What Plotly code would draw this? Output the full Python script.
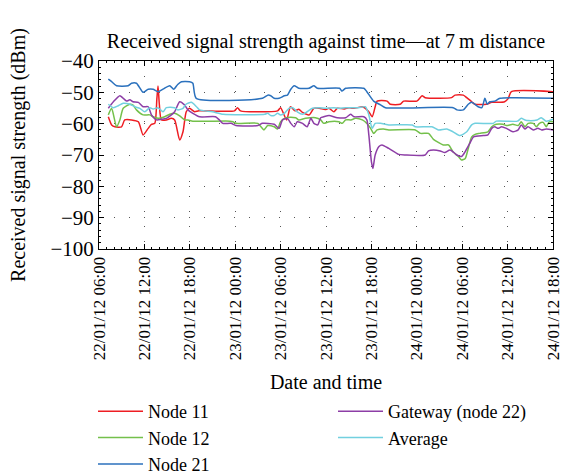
import datetime as dt
import plotly.graph_objects as go

START = dt.datetime(2012, 1, 22, 6, 0)

# Time offsets (hours after 22/01/12 06:00) and RSSI values (dBm) per series
node11_h = [1.23, 1.67, 2.1, 2.98, 3.4, 4.3, 5.2, 5.83, 6.5, 6.93, 7.37, 7.65, 7.8, 7.98, 8.24, 8.9, 9.56, 10.0,
            10.66, 11.1, 11.53, 11.97, 12.63, 13.2, 17.9, 18.3, 18.7, 23.6, 24.0, 24.8, 25.3, 25.9, 26.4,
            26.9, 27.8, 28.4, 29.1, 29.9, 30.4, 31.05, 31.5, 32.4, 33.03, 33.5, 34.1, 34.8, 35.2, 35.66,
            36.1, 36.5, 36.75, 38.07, 38.5, 39.8, 40.26, 42.0, 42.7, 43.1, 46.6, 47.05, 48.15, 48.6, 49.25,
            49.7, 51.2, 51.9, 52.75, 53.6, 54.07, 54.5, 60.0]
node11_v = [-57.8, -60.4, -61, -61, -58.8, -58.8, -59.4, -63.6, -61.5, -60.2, -59.9, -52, -48, -54, -58.8, -58.8,
            -58.3, -58.8, -65.2, -62.6, -56.2, -55.1, -56.2, -55.9, -55.9, -54.9, -55.9, -55.9, -54.9, -58.8,
            -54.6, -55.9, -55.4, -56.4, -57.2, -55.1, -55.1, -55.5, -55.1, -56.2, -55.1, -55.3, -54.9, -55.1,
            -54.9, -54.6, -55.1, -56.2, -57.8, -54.6, -52.8, -52.8, -53.8, -53.8, -52.8, -52.8, -51.1, -51.7,
            -51.7, -50.9, -50.9, -51.7, -53.0, -53.8, -53.8, -53.2, -53.2, -53.0, -52.0, -49.8, -49.8]

node12_h = [1.23, 1.67, 2.32, 2.76, 3.2, 4.08, 4.5, 4.95, 5.83, 6.7, 7.15, 7.8, 8.68, 9.34, 10.0, 10.66, 11.3,
            11.75, 12.4, 17.3, 17.7, 18.1, 21.0, 21.4, 21.8, 22.3, 23.15, 23.6, 24.0, 24.7, 26.0, 26.4, 27.3,
            28.6, 29.3, 29.7, 30.4, 31.7, 32.15, 32.6, 33.3, 33.9, 34.8, 35.4, 35.9, 36.3, 36.75, 37.6, 38.3,
            41.8, 42.5, 43.55, 44.2, 45.5, 46.2, 46.8, 47.5, 47.9, 48.4, 48.8, 49.25, 49.7, 50.3, 51.4, 51.9,
            52.5, 53.4, 53.85, 54.7, 55.4, 55.8, 56.3, 56.7, 57.4, 57.8, 58.2, 58.7, 59.1, 59.5, 60.0]
node12_v = [-57.2, -55.1, -61, -58.8, -55.1, -53.8, -54.1, -55.6, -57.2, -57.2, -57.8, -58.3, -57.8, -57.0,
            -56.7, -57.5, -58.8, -58.8, -59.2, -59.2, -59.4, -59.9, -59.9, -61.0, -62.0, -60.6, -61.0, -61.7,
            -59.4, -58.1, -58.1, -58.8, -58.3, -58.1, -58.8, -59.9, -59.4, -59.4, -59.9, -58.8, -58.8, -58.3,
            -58.8, -59.9, -61.5, -63.1, -62.0, -61.7, -62.0, -62.0, -63.1, -63.1, -65.0, -66.8, -66.8, -69.0,
            -70.5, -71.6, -71.1, -67.9, -64.2, -63.4, -63.1, -62.6, -61.0, -60.2, -60.2, -60.6, -60.2, -60.6,
            -59.4, -61.0, -59.9, -59.9, -61.0, -59.9, -59.6, -61.0, -59.4, -59.4]

node21_h = [1.23, 1.67, 2.32, 3.86, 4.3, 4.95, 5.83, 6.5, 7.15, 7.8, 8.46, 9.34, 9.87, 10.4, 10.9, 11.97, 12.4,
            12.85, 21.6, 22.3, 22.7, 23.15, 23.8, 24.5, 24.9, 25.35, 25.8, 26.4, 27.76, 28.4, 28.85, 31.8,
            32.1, 32.6, 35.0, 35.4, 36.3, 37.2, 37.85, 46.8, 47.3, 48.15, 48.8, 49.25, 50.1, 50.6, 51.0, 51.3,
            51.65, 52.3, 53.0, 60.0]
node21_v = [-45.8, -46.6, -47.9, -47.9, -47.1, -47.1, -50.0, -49.0, -49.0, -49.8, -49.0, -47.9, -49.0, -47.5,
            -46.6, -46.6, -47.1, -51.9, -51.9, -50.9, -51.1, -51.9, -51.9, -51.1, -50.9, -49.0, -47.9, -48.7,
            -48.7, -47.9, -48.7, -48.7, -49.6, -48.7, -48.7, -49.8, -52.8, -54.0, -54.9, -54.9, -55.6, -55.6,
            -53.8, -53.2, -54.6, -54.9, -51.9, -53.8, -53.0, -52.8, -51.9, -51.9]

gateway_h = [1.23, 1.9, 2.76, 3.2, 3.64, 4.08, 4.5, 5.2, 5.83, 6.5, 6.93, 7.6, 8.24, 8.9, 9.56, 10.0, 10.66,
             11.3, 11.75, 12.4, 13.3, 15.4, 15.9, 16.35, 17.45, 18.1, 21.0, 21.6, 23.15, 23.8, 24.25, 24.9,
             25.35, 25.8, 26.2, 26.9, 27.5, 28.0, 28.4, 28.9, 29.3, 29.7, 30.4, 31.5, 32.6, 33.25, 33.7, 35.0,
             35.4, 35.66, 36.0, 36.2, 36.5, 37.0, 37.4, 38.3, 39.6, 40.5, 43.1, 43.55, 44.2, 45.1, 45.7, 46.4,
             47.3, 47.9, 48.4, 49.0, 49.5, 50.8, 51.4, 51.9, 52.3, 52.75, 53.2, 53.85, 54.7, 55.4, 55.8, 56.3,
             56.7, 57.4, 58.0, 58.5, 59.1, 60.0]
gateway_v = [-55.1, -53.0, -51.1, -51.9, -52.8, -52.4, -53.0, -53.2, -54.6, -54.6, -57.2, -58.8, -58.6, -58.3,
             -57.2, -56.2, -53.0, -54.0, -55.6, -56.7, -57.8, -57.8, -58.8, -59.9, -59.9, -60.6, -60.6, -59.9,
             -60.2, -61.5, -58.8, -58.3, -59.9, -61.0, -59.4, -59.9, -61.0, -58.3, -59.9, -60.4, -58.1, -57.8,
             -57.4, -58.1, -58.1, -57.0, -57.8, -57.8, -58.8, -63.6, -72.1, -74.3, -70.0, -67.3, -66.8, -67.9,
             -69.8, -70.0, -70.0, -68.7, -68.4, -68.7, -69.2, -68.4, -70.0, -70.5, -68.9, -66.3, -64.2, -63.8,
             -63.6, -61.5, -61.0, -61.5, -61.0, -61.5, -62.6, -62.0, -60.4, -61.7, -61.0, -62.0, -61.5, -62.0,
             -61.7, -62.0]

average_h = [1.23, 1.9, 2.54, 3.2, 4.08, 4.73, 5.4, 6.05, 6.7, 7.15, 7.8, 8.46, 8.9, 10.0, 10.4, 11.1, 11.5,
             12.2, 12.85, 13.3, 15.0, 16.4, 21.9, 22.3, 22.7, 23.15, 23.6, 24.0, 24.5, 25.1, 25.6, 26.2, 26.9,
             27.5, 28.2, 29.1, 30.0, 31.05, 31.7, 32.6, 34.3, 35.2, 35.66, 36.1, 36.5, 37.2, 37.85, 38.3, 41.4,
             41.8, 44.0, 44.87, 45.95, 46.8, 47.7, 48.6, 49.25, 49.7, 52.1, 52.5, 55.3, 55.8, 56.3, 56.7, 57.9,
             58.45, 59.1, 60.0]
average_v = [-53.8, -54.9, -54.3, -53.5, -53.8, -54.6, -55.1, -56.2, -54.9, -55.3, -54.9, -56.2, -54.9, -54.9,
             -55.6, -55.1, -53.8, -53.2, -54.5, -55.6, -56.2, -57.0, -57.0, -56.7, -57.4, -57.4, -56.7, -57.2,
             -56.7, -55.1, -54.9, -56.2, -57.0, -56.2, -55.1, -54.9, -55.1, -54.9, -55.1, -54.9, -54.9, -54.6,
             -57.2, -61.5, -59.9, -59.9, -60.2, -60.4, -60.4, -61.0, -61.0, -62.0, -61.7, -62.6, -63.8, -62.6,
             -60.4, -59.9, -59.9, -59.2, -59.2, -58.3, -58.8, -59.0, -58.8, -58.1, -59.2, -58.6]

tick_hours = [0, 6, 12, 18, 24, 30, 36, 42, 48, 54, 60]
y_ticks = [-40, -50, -60, -70, -80, -90, -100]

series = [
    ("Node 11", node11_h, node11_v, "#ee1d23", "legend"),
    ("Node 12", node12_h, node12_v, "#74c04b", "legend"),
    ("Node 21", node21_h, node21_v, "#2b71bd", "legend"),
    ("Gateway (node 22)", gateway_h, gateway_v, "#8d3ea6", "legend2"),
    ("Average", average_h, average_v, "#72d0df", "legend2"),
]


def to_time(hours):
    return [START + dt.timedelta(hours=h) for h in hours]


fig = go.Figure()
for name, hs, vs, color, leg in series:
    fig.add_trace(go.Scatter(
        x=to_time(hs), y=vs, mode="lines", name=name,
        line=dict(color=color, width=1.5, shape="spline", smoothing=0.6),
        legend=leg,
    ))

FONT = "Liberation Serif"
tickvals = to_time(tick_hours)
W, H = 573, 475
ML, MR, MT, MB = 99, 20, 61, 226
PW = W - ML - MR

legend_common = dict(xanchor="left", yanchor="top", orientation="v", xref="paper", yref="container",
                     font=dict(family=FONT, size=18), itemwidth=45, bgcolor="rgba(0,0,0,0)")

fig.update_layout(
    width=W, height=H,
    margin=dict(l=ML, r=MR, t=MT, b=MB),
    paper_bgcolor="white", plot_bgcolor="white",
    font=dict(family=FONT, size=19, color="black"),
    title=dict(text="Received signal strength against time\u2014at 7\u2009m distance",
               x=0.5, xref="paper", xanchor="center", y=1 - 41 / H, yref="container",
               yanchor="middle", font=dict(family=FONT, size=20)),
    showlegend=True,
    legend=dict(x=(93 - ML) / PW, y=1 - 393 / H, **legend_common),
    legend2=dict(x=(333 - ML) / PW, y=1 - 393 / H, **legend_common),
)

fig.update_xaxes(
    type="date",
    automargin=False,
    range=[tickvals[0], tickvals[-1]],
    tickvals=tickvals,
    tickformat="%d/%m/%y %H:%M",
    tickangle=-90,
    tickfont=dict(family=FONT, size=17),
    ticks="inside", ticklen=5, tickcolor="black",
    minor=dict(dtick=3600000, ticks="inside", ticklen=2, tickcolor="black", showgrid=False),
    showline=True, linecolor="black", linewidth=1, mirror="allticks",
    showgrid=True, gridcolor="#555555", gridwidth=1, griddash="1px,14px",
    zeroline=False,
    title=dict(text="Date and time", font=dict(family=FONT, size=20), standoff=15),
)
fig.update_yaxes(
    automargin=False,
    range=[-100, -40],
    tickvals=y_ticks,
    ticktext=["\u2212" + str(abs(v)) for v in y_ticks],
    tickfont=dict(family=FONT, size=21),
    ticks="inside", ticklen=5, tickcolor="black",
    minor=dict(dtick=2, ticks="inside", ticklen=2, tickcolor="black", showgrid=False),
    showline=True, linecolor="black", linewidth=1, mirror="allticks",
    showgrid=True, gridcolor="#555555", gridwidth=1, griddash="1px,14px",
    zeroline=False,
    title=dict(text="Received signal strength (dBm)", font=dict(family=FONT, size=20), standoff=19),
)

fig.write_html("out.html", config={"displayModeBar": False},
               post_script="document.body.style.margin='0';")
